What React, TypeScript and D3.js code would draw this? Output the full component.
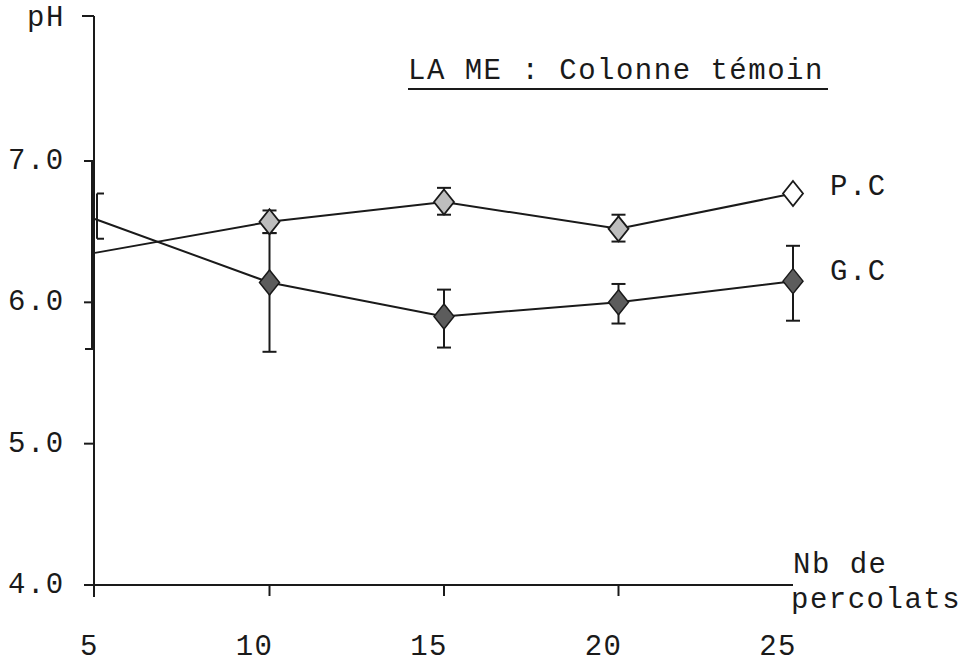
import React from "react";
import * as d3 from "d3";

const percolats = [5, 10, 15, 20, 25];
const xTickLabels = ["5", "10", "15", "20", "25"];
const yTicks = [4, 5, 6, 7];
const yTickLabels = ["4.0", "5.0", "6.0", "7.0"];

const pcMean = [6.35, 6.57, 6.71, 6.52, 6.77];
const pcLow = [6.45, 6.49, 6.62, 6.43, 6.77];
const pcHigh = [6.77, 6.65, 6.81, 6.62, 6.77];

const gcMean = [6.59, 6.14, 5.9, 6.0, 6.15];
const gcLow = [5.67, 5.65, 5.68, 5.85, 5.87];
const gcHigh = [7.0, 6.49, 6.09, 6.13, 6.4];

const title = "LA ME : Colonne témoin";
const yLabel = "pH";
const xLabel1 = "Nb de";
const xLabel2 = "percolats";
const pcLabel = "P.C";
const gcLabel = "G.C";

const W = 967;
const H = 667;
const FONT = "'Liberation Mono', 'DejaVu Sans Mono', monospace";
const INK = "#1a1a1a";

export default function App() {
  const x = d3.scaleLinear().domain([5, 25]).range([95, 793]);
  const y = d3.scaleLinear().domain([4, 7]).range([585, 161]);
  const line = d3
    .line<number>()
    .x((_, i) => x(percolats[i]))
    .y((d) => y(d));

  const diamond = (cx: number, cy: number) =>
    `M${cx},${cy - 12.5}L${cx + 10},${cy}L${cx},${cy + 12.5}L${cx - 10},${cy}Z`;

  const errBar = (
    key: string,
    cx: number,
    lo: number,
    hi: number,
    capL: number,
    capR: number
  ) => {
    if (Math.abs(hi - lo) < 1e-6) return null;
    return (
      <g key={key} stroke={INK} strokeWidth={2}>
        <line x1={cx} x2={cx} y1={y(hi)} y2={y(lo)} />
        <line x1={cx - capL} x2={cx + capR} y1={y(hi)} y2={y(hi)} />
        <line x1={cx - capL} x2={cx + capR} y1={y(lo)} y2={y(lo)} />
      </g>
    );
  };

  return (
    <svg width={W} height={H} style={{ position: "absolute", left: 0, top: 0, background: "#fff" }}>
      <rect width={W} height={H} fill="#fff" />
      {/* axes */}
      <g stroke={INK} strokeWidth={2}>
        <line x1={94} x2={94} y1={16} y2={597} />
        <line x1={88} x2={793} y1={585} y2={585} />
        <line x1={82} x2={94} y1={16} y2={16} />
        {yTicks.map((t) => (
          <line key={t} x1={84} x2={94} y1={y(t)} y2={y(t)} />
        ))}
        {percolats.slice(1, 4).map((p) => (
          <line key={p} x1={x(p)} x2={x(p)} y1={585} y2={596} />
        ))}
      </g>
      {/* axis labels */}
      <g fontFamily={FONT} fontSize={29} letterSpacing={1.5} fill={INK}>
        <text x={27} y={26}>{yLabel}</text>
        {yTicks.map((t, i) => (
          <text key={t} x={8} y={y(t) + 8}>
            {yTickLabels[i]}
          </text>
        ))}
        {percolats.map((p, i) => (
          <text key={p} x={x(p) + 4} y={655} textAnchor="end">
            {xTickLabels[i]}
          </text>
        ))}
        <text x={793} y={573}>{xLabel1}</text>
        <text x={791} y={608}>{xLabel2}</text>
        <text x={830} y={195}>{pcLabel}</text>
        <text x={830} y={280}>{gcLabel}</text>
        <text x={408} y={79}>{title}</text>
      </g>
      <line x1={408} x2={828} y1={89} y2={89} stroke={INK} strokeWidth={2} />
      {/* series lines */}
      <path d={line(pcMean) || ""} fill="none" stroke={INK} strokeWidth={2} />
      <path d={line(gcMean) || ""} fill="none" stroke={INK} strokeWidth={2} />
      {/* error bars */}
      {percolats.map((p, i) =>
        errBar(`gc${i}`, x(p) + (i === 0 ? -3 : 0), gcLow[i], gcHigh[i], 7, i === 0 ? 3 : 7)
      )}
      {percolats.map((p, i) =>
        errBar(`pc${i}`, x(p) + (i === 0 ? 2 : 0), pcLow[i], pcHigh[i], i === 0 ? 0 : 7, 7)
      )}
      {/* markers */}
      {percolats.map((p, i) =>
        i === 0 ? null : (
          <path
            key={`gcm${i}`}
            d={diamond(x(p), y(gcMean[i]))}
            fill="#5c5c5c"
            stroke={INK}
            strokeWidth={1.5}
          />
        )
      )}
      {percolats.map((p, i) =>
        i === 0 ? null : (
          <path
            key={`pcm${i}`}
            d={diamond(x(p), y(pcMean[i]))}
            fill={i === 4 ? "#fff" : "#bdbdbd"}
            stroke={INK}
            strokeWidth={1.8}
          />
        )
      )}
    </svg>
  );
}
